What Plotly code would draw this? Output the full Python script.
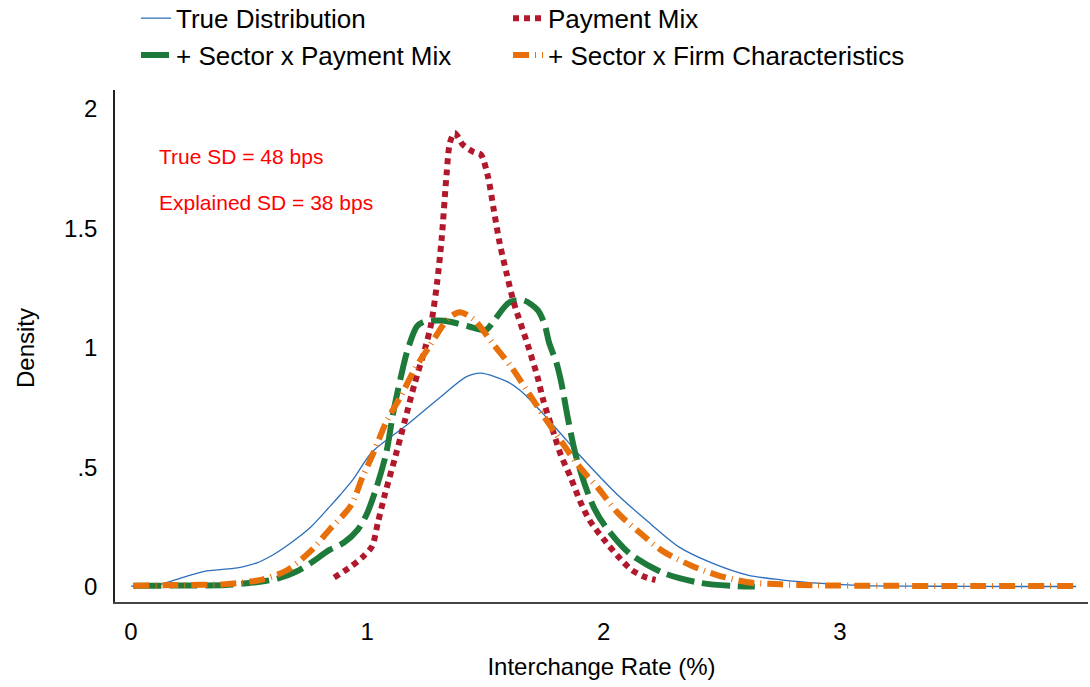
import plotly.graph_objects as go

# Kernel density curves of interchange rates (%)
true_x = [0.0, 0.12, 0.22, 0.32, 0.45, 0.53, 0.60, 0.67, 0.76, 0.84, 0.885, 0.94, 1.02, 1.17, 1.31,
          1.42, 1.48, 1.59, 1.65, 1.73, 1.82, 1.90, 1.985, 2.06, 2.18, 2.32, 2.46, 2.61, 2.75, 2.92,
          3.1, 3.4, 3.7, 4.0]
true_y = [0.004, 0.01, 0.04, 0.067, 0.08, 0.10, 0.134, 0.18, 0.25, 0.335, 0.385, 0.45, 0.565, 0.68, 0.795,
          0.88, 0.895, 0.86, 0.82, 0.74, 0.64, 0.55, 0.46, 0.385, 0.28, 0.167, 0.10, 0.05, 0.03, 0.015,
          0.006, 0.003, 0.002, 0.002]

pay_x = [0.86, 0.93, 0.98, 1.02, 1.045, 1.075, 1.12, 1.16, 1.20, 1.245, 1.27, 1.295, 1.315, 1.335,
         1.35, 1.37, 1.405, 1.45, 1.48, 1.51, 1.535, 1.56, 1.59, 1.62, 1.68, 1.72, 1.745, 1.79, 1.82,
         1.86, 1.90, 1.94, 2.00, 2.06, 2.12, 2.18, 2.22]
pay_y = [0.04, 0.085, 0.125, 0.17, 0.27, 0.39, 0.55, 0.70, 0.85, 1.00, 1.10, 1.27, 1.46, 1.72,
         1.86, 1.90, 1.85, 1.82, 1.81, 1.72, 1.58, 1.44, 1.31, 1.19, 1.01, 0.88, 0.78, 0.64, 0.55,
         0.46, 0.36, 0.28, 0.20, 0.13, 0.07, 0.04, 0.03]

sec_pay_x = [0.01, 0.2, 0.4, 0.53, 0.62, 0.70, 0.76, 0.84, 0.90, 0.96, 1.00, 1.04, 1.08, 1.11, 1.14,
             1.17, 1.21, 1.24, 1.30, 1.35, 1.43, 1.50, 1.54, 1.60, 1.66, 1.72, 1.75, 1.77, 1.80, 1.82,
             1.85, 1.88, 1.92, 1.96, 2.01, 2.11, 2.25, 2.41, 2.55, 2.64]
sec_pay_y = [0.005, 0.006, 0.008, 0.02, 0.035, 0.065, 0.10, 0.155, 0.185, 0.24, 0.31, 0.42, 0.56, 0.73, 0.87,
             0.99, 1.09, 1.11, 1.115, 1.11, 1.09, 1.075, 1.12, 1.19, 1.20, 1.16, 1.10, 1.02, 0.94, 0.86,
             0.70, 0.56, 0.43, 0.33, 0.25, 0.14, 0.06, 0.017, 0.004, 0.002]

sec_firm_x = [0.01, 0.2, 0.4, 0.55, 0.66, 0.76, 0.84, 0.93, 0.98, 1.03, 1.08, 1.14, 1.20, 1.265, 1.34,
              1.39, 1.45, 1.53, 1.61, 1.68, 1.75, 1.82, 1.90, 1.98, 2.06, 2.15, 2.25, 2.37, 2.48, 2.61,
              2.73, 2.9, 3.2, 3.6, 4.0]
sec_firm_y = [0.005, 0.008, 0.012, 0.03, 0.07, 0.15, 0.24, 0.34, 0.46, 0.57, 0.69, 0.795, 0.91, 1.01, 1.12,
              1.15, 1.12, 1.02, 0.92, 0.815, 0.71, 0.61, 0.50, 0.41, 0.31, 0.23, 0.15, 0.09, 0.05, 0.02,
              0.012, 0.007, 0.005, 0.004, 0.004]

x_ticks = [0, 1, 2, 3]
y_ticks = [0, 0.5, 1, 1.5, 2]
y_tick_text = ["0", ".5", "1", "1.5", "2"]

FONT = "Liberation Sans, Arial, sans-serif"

fig = go.Figure()

fig.add_trace(go.Scatter(
    x=true_x, y=true_y, mode="lines", name="True Distribution", legend="legend",
    line=dict(color="#2c6fbb", width=1.3, shape="spline", smoothing=0.8)))
fig.add_trace(go.Scatter(
    x=sec_pay_x, y=sec_pay_y, mode="lines", name="+ Sector x Payment Mix", legend="legend",
    line=dict(color="#1e7a3a", width=6, dash="28px,8px", shape="spline", smoothing=0.8)))
fig.add_trace(go.Scatter(
    x=pay_x, y=pay_y, mode="lines", name="Payment Mix", legend="legend2",
    line=dict(color="#b2182b", width=6, dash="6px,5px", shape="spline", smoothing=0.8)))
fig.add_trace(go.Scatter(
    x=sec_firm_x, y=sec_firm_y, mode="lines", name="+ Sector x Firm Characteristics", legend="legend2",
    line=dict(color="#e8700a", width=6, dash="16px,6px,1px,6px", shape="spline", smoothing=0.8)))

fig.add_annotation(x=0.11, y=1.80, xref="x", yref="y", text="True SD = 48 bps",
                   showarrow=False, xanchor="left", yanchor="middle",
                   font=dict(family=FONT, size=21, color="#ff0000"))
fig.add_annotation(x=0.11, y=1.607, xref="x", yref="y", text="Explained SD = 38 bps",
                   showarrow=False, xanchor="left", yanchor="middle",
                   font=dict(family=FONT, size=21, color="#ff0000"))

# Vertical axis title, placed in the left margin
fig.add_annotation(x=-0.0925, y=0.496, xref="paper", yref="paper", text="Density",
                   showarrow=False, textangle=-90, xanchor="center", yanchor="middle",
                   font=dict(family=FONT, size=24, color="#000000"))

legend_style = dict(orientation="v", xref="container", yref="paper", xanchor="left",
                    yanchor="top", bgcolor="rgba(0,0,0,0)", borderwidth=0,
                    font=dict(family=FONT, size=26, color="#000000"), tracegroupgap=0)

fig.update_layout(
    width=1090, height=687,
    margin=dict(l=115, r=2, t=90, b=85, autoexpand=False),
    paper_bgcolor="white", plot_bgcolor="white",
    font=dict(family=FONT, size=24, color="#000000"),
    legend=dict(x=136 / 1090, y=1.186, **legend_style),
    legend2=dict(x=508 / 1090, y=1.186, **legend_style),
    xaxis=dict(range=[-0.0677, 4.05], tickvals=x_ticks, showgrid=False, zeroline=False,
               showline=True, linecolor="#444444", linewidth=2, ticks="",
               ticklabelstandoff=7, tickfont=dict(size=24),
               title=dict(text="Interchange Rate (%)", font=dict(size=24), standoff=14)),
    yaxis=dict(range=[-0.0628, 2.0795], tickvals=y_ticks, ticktext=y_tick_text, showgrid=False,
               zeroline=False, showline=True, linecolor="#222222", linewidth=1.5, ticks="",
               ticklabelstandoff=11, tickfont=dict(size=24)),
)

fig.write_html("out.html")
